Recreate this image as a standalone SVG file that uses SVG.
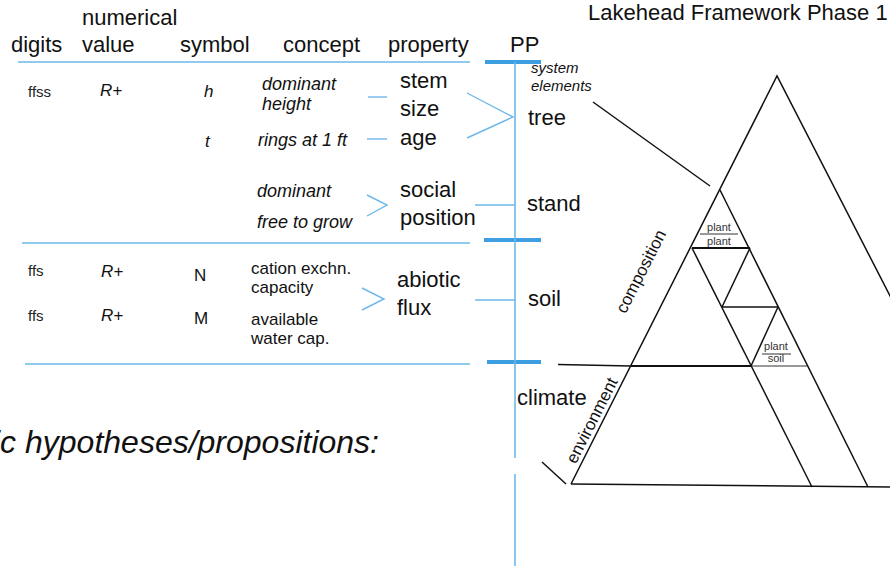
<svg xmlns="http://www.w3.org/2000/svg" width="890" height="567" viewBox="0 0 890 567">
  <style>
    text { font-family: "Liberation Sans", Arial, Helvetica, sans-serif; fill: #111; }
    .hd { font-size: 22px; }
    .big { font-size: 22px; }
    .it18 { font-size: 18px; font-style: italic; }
    .it17 { font-size: 17px; font-style: italic; }
    .n17 { font-size: 17px; }
    .dig { font-size: 15px; fill: #222; }
    .sys { font-size: 15px; font-style: italic; }
    .frac { font-size: 11px; fill: #333; }
    .side { font-size: 17px; }
    .title { font-size: 22px; }
    .hyp { font-size: 32px; font-style: italic; }
    .rule { stroke: #6db8ea; stroke-width: 1.6; fill: none; }
    .tick { stroke: #3d9fe2; stroke-width: 4; fill: none; }
    .link { stroke: #6db8ea; stroke-width: 1.4; fill: none; }
    .ink { stroke: #111; stroke-width: 1.5; fill: none; }
    .ink2 { stroke: #111; stroke-width: 2.2; fill: none; }
    .thin { stroke: #333; stroke-width: 1; fill: none; }
  </style>

  <!-- title -->
  <text class="title" x="588" y="20">Lakehead Framework Phase 1</text>

  <!-- column headers -->
  <g id="header">
    <text class="hd" x="82" y="25">numerical</text>
    <text class="hd" x="11" y="52">digits</text>
    <text class="hd" x="82" y="52">value</text>
    <text class="hd" x="180" y="52">symbol</text>
    <text class="hd" x="283" y="52">concept</text>
    <text class="hd" x="388" y="52">property</text>
    <text class="hd" x="510" y="52">PP</text>
  </g>

  <!-- table rules and the PP axis -->
  <g id="rules">
    <line class="rule" x1="18" y1="62" x2="470" y2="62"/>
    <line class="rule" x1="22" y1="243" x2="470" y2="243"/>
    <line class="rule" x1="25" y1="364" x2="470" y2="364"/>
    <line class="tick" x1="485" y1="62" x2="541" y2="62"/>
    <line class="tick" x1="484" y1="240" x2="541" y2="240"/>
    <line class="tick" x1="487" y1="362" x2="541" y2="362"/>
    <line class="rule" x1="515" y1="62" x2="515" y2="458"/>
    <line class="rule" x1="515" y1="474" x2="515" y2="566"/>
  </g>

  <!-- tree block -->
  <g id="row-tree">
    <text class="dig" x="28" y="97">ffss</text>
    <text class="it17" x="100" y="96">R+</text>
    <text class="it17" x="204" y="97">h</text>
    <text class="it18" x="262" y="90">dominant</text>
    <text class="it18" x="262" y="110">height</text>
    <text class="it17" x="205" y="147">t</text>
    <text class="it18" x="258" y="146">rings at 1 ft</text>
    <text class="big" x="400" y="88">stem</text>
    <text class="big" x="400" y="116">size</text>
    <text class="big" x="400" y="145">age</text>
  </g>

  <!-- stand block -->
  <g id="row-stand">
    <text class="it18" x="257" y="197">dominant</text>
    <text class="it18" x="257" y="228">free to grow</text>
    <text class="big" x="400" y="197">social</text>
    <text class="big" x="400" y="225">position</text>
  </g>

  <!-- soil block -->
  <g id="row-soil">
    <text class="dig" x="28" y="276">ffs</text>
    <text class="it17" x="101" y="277">R+</text>
    <text class="n17" x="194" y="281">N</text>
    <text class="n17" x="251" y="274">cation exchn.</text>
    <text class="n17" x="251" y="293">capacity</text>
    <text class="dig" x="28" y="321">ffs</text>
    <text class="it17" x="101" y="321">R+</text>
    <text class="n17" x="194" y="324">M</text>
    <text class="n17" x="251" y="325">available</text>
    <text class="n17" x="251" y="344">water cap.</text>
    <text class="big" x="397" y="287">abiotic</text>
    <text class="big" x="397" y="315">flux</text>
  </g>

  <!-- PP labels -->
  <g id="pp-labels">
    <text class="sys" x="531" y="73">system</text>
    <text class="sys" x="531" y="91">elements</text>
    <text class="big" x="528" y="125">tree</text>
    <text class="big" x="527" y="211">stand</text>
    <text class="big" x="528" y="306">soil</text>
    <text class="big" x="517" y="405">climate</text>
  </g>

  <!-- links between concepts, properties and PP levels -->
  <g id="connectors">
    <line class="link" x1="368" y1="97" x2="387" y2="97"/>
    <line class="link" x1="367" y1="139" x2="387" y2="139"/>
    <polyline class="link" points="467,93 513,117 467,138"/>
    <polyline class="link" points="367,195 387,205 367,216"/>
    <line class="link" x1="475" y1="205" x2="515" y2="205"/>
    <polyline class="link" points="362,288 384,299 362,310"/>
    <line class="link" x1="475" y1="300" x2="515" y2="300"/>
  </g>

  <!-- triangle framework -->
  <g id="triangle">
    <line class="ink" x1="593" y1="102" x2="710" y2="186"/>
    <polyline class="ink" points="571,484 777,76 905,325"/>
    <line class="ink" x1="720" y1="190" x2="868" y2="487"/>
    <line class="ink" x1="692" y1="248" x2="812" y2="487"/>
    <line class="ink" x1="571" y1="484" x2="890" y2="487"/>
    <line class="ink" x1="558" y1="364.5" x2="631" y2="366"/>
    <line class="ink2" x1="631" y1="366" x2="751" y2="366"/>
    <line class="thin" x1="751" y1="366" x2="807" y2="366"/>
    <line class="ink2" x1="692" y1="248" x2="750" y2="248"/>
    <line class="thin" x1="700" y1="234" x2="738" y2="234"/>
    <line class="ink" x1="722" y1="307" x2="778" y2="307"/>
    <line class="ink" x1="750" y1="248" x2="722" y2="307"/>
    <line class="ink" x1="778" y1="307" x2="751" y2="366"/>
    <line class="thin" x1="762" y1="354" x2="791" y2="354"/>
    <line class="ink" x1="542" y1="462" x2="566" y2="484"/>
    <text class="frac" x="719" y="231" text-anchor="middle">plant</text>
    <text class="frac" x="719" y="245" text-anchor="middle">plant</text>
    <text class="frac" x="776" y="350" text-anchor="middle">plant</text>
    <text class="frac" x="776" y="362" text-anchor="middle">soil</text>
    <text class="side" x="646" y="274" text-anchor="middle" transform="rotate(-63 646 274)">composition</text>
    <text class="side" x="597" y="423" text-anchor="middle" transform="rotate(-63 597 423)">environment</text>
  </g>

  <!-- caption, running off the left edge -->
  <text class="hyp" x="-7" y="453">ic hypotheses/propositions:</text>
</svg>
